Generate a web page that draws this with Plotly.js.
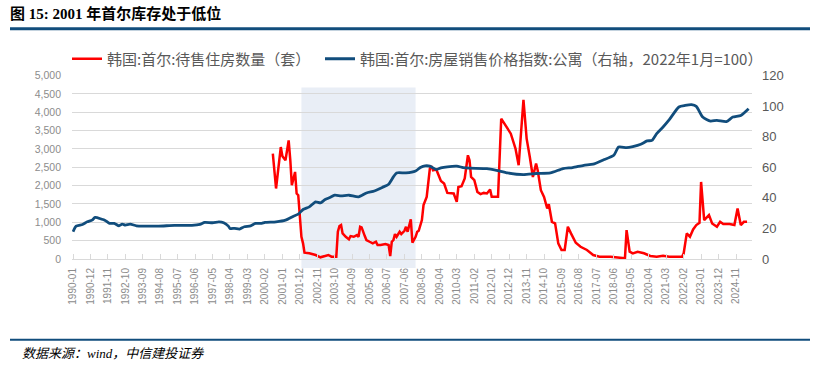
<!DOCTYPE html>
<html>
<head>
<meta charset="utf-8">
<script src="https://cdn.plot.ly/plotly-3.0.1.min.js"></script>
<style>
  html, body { margin: 0; padding: 0; background: #ffffff; }
  #chart { width: 822px; height: 370px; }
</style>
</head>
<body>
<div id="chart"></div>
<script>
// ---- data ----
const redName = "韩国:首尔:待售住房数量（套）";
const blueName = "韩国:首尔:房屋销售价格指数:公寓（右轴，2022年1月=100）";

const redDates = ["2000-07","2000-09","2000-12","2001-01","2001-03","2001-05","2001-06","2001-07","2001-09","2001-10",
  "2001-11","2001-12","2002-01","2002-02","2002-03","2002-06","2002-10","2003-01","2003-04","2003-06",
  "2003-08","2003-11","2003-12","2004-01","2004-02","2004-03","2004-05","2004-07","2004-08","2004-10",
  "2004-12","2005-01","2005-02","2005-03","2005-05","2005-06","2005-08","2005-10","2005-12","2006-01",
  "2006-03","2006-06","2006-08","2006-09","2006-10","2006-11","2006-12","2007-01","2007-03","2007-04",
  "2007-06","2007-07","2007-08","2007-10","2007-11","2008-01","2008-02","2008-03","2008-05","2008-06",
  "2008-08","2008-09","2008-10","2008-11","2008-12","2009-02","2009-04","2009-05","2009-07","2009-09",
  "2010-01","2010-03","2010-04","2010-06","2010-08","2010-10","2010-11","2010-12","2011-02","2011-04",
  "2011-06","2011-08","2011-10","2011-12","2012-01","2012-03","2012-05","2012-07","2012-09","2013-01",
  "2013-04","2013-06","2013-09","2013-10","2013-11","2014-01","2014-03","2014-05","2014-06","2014-08",
  "2014-10","2014-12","2015-01","2015-03","2015-05","2015-07","2015-09","2015-11","2016-01","2016-03",
  "2016-06","2016-09","2017-01","2017-05","2017-09","2018-04","2018-10","2019-01","2019-02","2019-04",
  "2019-06","2019-09","2020-01","2020-05","2020-09","2021-01","2021-05","2022-01","2022-02","2022-04",
  "2022-06","2022-08","2022-10","2022-12","2023-01","2023-03","2023-06","2023-08","2023-11","2024-01",
  "2024-03","2024-07","2024-10","2024-12","2025-02","2025-04","2025-06"];
const redValues = [2872,1921,3051,2800,2690,3233,2700,2011,2372,1785,
  1739,1285,606,427,171,155,109,46,82,109,
  63,63,742,897,924,698,606,535,625,606,
  652,606,878,861,625,516,470,427,470,380,
  380,408,380,82,470,516,679,606,742,679,
  769,878,742,1079,443,606,742,769,1060,1467,
  1693,2146,2464,2527,2418,2437,2193,2127,2057,1801,
  1785,1557,1964,1983,2193,2826,2690,2236,2146,1829,
  1766,1801,1785,1894,1693,1693,1693,3823,3687,3415,
  3008,2554,4339,3687,3280,2780,2236,2600,2418,1875,
  1693,1377,1494,1013,970,427,245,245,878,698,
  443,334,245,109,63,63,36,18,788,199,
  155,199,155,82,63,91,63,63,155,698,
  606,806,924,987,2100,1060,1196,970,878,1013,
  951,951,924,1377,924,1013,1013];

const blueDates = ["1990-01","1990-03","1990-07","1990-10","1991-01","1991-03","1991-07","1991-09","1991-12","1992-03",
  "1992-06","1992-08","1992-10","1993-01","1993-05","1993-10","1994-07","1995-05","1996-04","1996-09",
  "1996-12","1997-05","1997-09","1997-12","1998-03","1998-04","1998-07","1998-10","1999-01","1999-05",
  "1999-08","1999-12","2000-02","2000-09","2001-03","2001-08","2001-11","2002-02","2002-06","2002-10",
  "2003-01","2003-04","2003-07","2003-10","2004-02","2004-07","2005-01","2005-06","2005-11","2006-04",
  "2006-08","2006-11","2007-01","2007-07","2008-01","2008-04","2008-07","2008-10","2009-02","2009-05",
  "2009-09","2010-03","2010-07","2010-11","2011-10","2012-04","2012-11","2013-09","2014-05","2015-02",
  "2015-10","2016-04","2016-11","2017-05","2017-11","2018-06","2018-09","2019-02","2019-06","2019-11",
  "2020-03","2020-06","2020-09","2021-01","2021-05","2021-11","2022-03","2022-07","2022-10","2023-02",
  "2023-07","2023-11","2024-05","2024-09","2025-02","2025-07"];
const blueValues = [17.8,21.5,22.6,24.3,25.4,27.2,26.1,25.4,23.3,23.3,
  21.7,22.8,22.2,22.8,21.7,21.5,21.5,22.0,22.0,22.6,
  23.9,23.7,24.3,23.7,21.5,20.0,20.0,19.6,21.1,21.7,
  23.3,23.3,23.9,24.3,25.4,28.0,29.3,32.4,34.1,37.4,
  36.7,38.9,40.2,41.7,41.3,41.7,40.6,43.2,44.5,46.8,
  48.9,53.7,56.3,56.3,57.6,59.8,60.9,60.7,58.5,59.6,
  60.3,60.7,59.8,59.4,59.1,58.0,56.3,55.2,55.9,56.3,
  59.1,59.8,61.3,62.0,64.6,67.8,73.2,72.8,73.5,75.0,
  77.2,77.6,82.0,86.3,91.1,99.4,100.4,100.9,99.8,92.8,
  90.2,90.7,89.8,92.8,93.9,98.3];

const xTickLabels = ["1990-01","1990-12","1991-11","1992-10","1993-09","1994-08","1995-07","1996-06","1997-05","1998-04",
  "1999-03","2000-02","2001-01","2001-12","2002-11","2003-10","2004-09","2005-08","2006-07","2007-06",
  "2008-05","2009-04","2010-03","2011-02","2012-01","2012-12","2013-11","2014-10","2015-09","2016-08",
  "2017-07","2018-06","2019-05","2020-04","2021-03","2022-02","2023-01","2023-12","2024-11"];

const shadeStart = "2002-01";
const shadeEnd = "2008-01";

const titleText = "<b>图 15: 2001 年首尔库存处于低位</b>";
const sourceText = "<i>数据来源：wind，中信建投证券</i>";

// ---- chart ----
const legendFont = { family: "Noto Sans CJK SC, Liberation Sans, sans-serif", size: 15, color: "#595959" };

const traces = [
  { x: redDates, y: redValues, name: redName, type: "scatter", mode: "lines",
    line: { color: "#ff0000", width: 2.5 }, yaxis: "y", legend: "legend" },
  { x: blueDates, y: blueValues, name: blueName, type: "scatter", mode: "lines",
    line: { color: "#114d7c", width: 2.8, shape: "spline", smoothing: 0.6 }, yaxis: "y2", legend: "legend2" }
];

const layout = {
  width: 822, height: 370,
  margin: { l: 72, r: 70, t: 75, b: 111 },
  paper_bgcolor: "#ffffff",
  plot_bgcolor: "rgba(0,0,0,0)",
  showlegend: true,
  legend: {
    orientation: "h", xref: "container", yref: "container",
    x: 67 / 822, y: 1 - 59 / 370, xanchor: "left", yanchor: "middle",
    font: legendFont, bgcolor: "rgba(0,0,0,0)", itemwidth: 30
  },
  legend2: {
    orientation: "h", xref: "container", yref: "container",
    x: 320 / 822, y: 1 - 59 / 370, xanchor: "left", yanchor: "middle",
    font: legendFont, bgcolor: "rgba(0,0,0,0)", itemwidth: 30
  },
  xaxis: {
    type: "date",
    range: ["1989-12-12", "2025-09-04"],
    tickmode: "array", tickvals: xTickLabels, ticktext: xTickLabels,
    tickangle: -90,
    tickfont: { family: "Liberation Sans, Arial, sans-serif", size: 10, color: "#8c8c8c" },
    ticks: "inside", ticklen: 5, tickcolor: "#d9d9d9", tickwidth: 1,
    ticklabelstandoff: 4,
    showline: true, linecolor: "#d9d9d9", linewidth: 1,
    showgrid: false, zeroline: false, fixedrange: true
  },
  yaxis: {
    range: [0, 5000], dtick: 500, tickformat: ",d",
    tickfont: { family: "Liberation Sans, Arial, sans-serif", size: 10.5, color: "#8c8c8c" },
    showgrid: true, gridcolor: "#d9d9d9", gridwidth: 1,
    zeroline: false, showline: false, ticks: "", ticklabelstandoff: 10, fixedrange: true
  },
  yaxis2: {
    range: [0, 120], dtick: 20, overlaying: "y", side: "right",
    tickfont: { family: "Liberation Sans, Arial, sans-serif", size: 13, color: "#595959" },
    showgrid: false, zeroline: false, showline: false, ticks: "", ticklabelstandoff: 9, fixedrange: true
  },
  shapes: [
    { type: "rect", xref: "x", yref: "paper", x0: shadeStart, x1: shadeEnd, y0: -0.049, y1: 0.935,
      fillcolor: "#e9eef6", line: { width: 0 }, layer: "below" },
    { type: "line", xref: "paper", yref: "paper",
      x0: (10 - 72) / 680, x1: (810 - 72) / 680, y0: (259 - 28) / 184, y1: (259 - 28) / 184,
      line: { color: "#114d7c", width: 3 } },
    { type: "line", xref: "paper", yref: "paper",
      x0: (10 - 72) / 680, x1: (810 - 72) / 680, y0: (259 - 340) / 184, y1: (259 - 340) / 184,
      line: { color: "#114d7c", width: 2 } }
  ],
  annotations: [
    { text: titleText, xref: "paper", yref: "paper", x: (8 - 72) / 680, y: (259 - 13) / 184,
      xanchor: "left", yanchor: "middle", showarrow: false,
      font: { family: "Liberation Serif, Noto Sans CJK SC, serif", size: 15, color: "#000000" } },
    { text: sourceText, xref: "paper", yref: "paper", x: (20 - 72) / 680, y: (259 - 354) / 184,
      xanchor: "left", yanchor: "middle", showarrow: false,
      font: { family: "Liberation Serif, Noto Sans CJK SC, serif", size: 13, color: "#000000" } }
  ]
};

Plotly.newPlot("chart", traces, layout, { displayModeBar: false, staticPlot: true });
</script>
</body>
</html>
